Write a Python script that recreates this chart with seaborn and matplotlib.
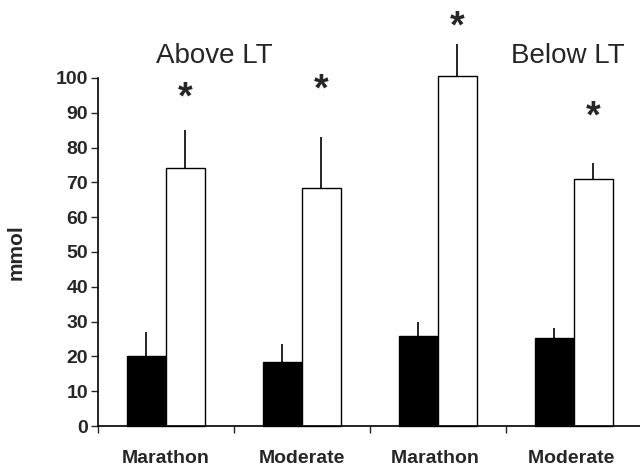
import numpy as np
import pandas as pd
import seaborn as sns
import matplotlib
matplotlib.use("Agg")
import matplotlib.pyplot as plt

# --- data ---
groups = ["Marathon", "Moderate", "Marathon ", "Moderate "]
conditions = ["pre", "post"]
pre_vals = [20.0, 18.4, 25.9, 25.3]
post_vals = [74.0, 68.4, 100.6, 71.0]
pre_err = [7.0, 5.1, 4.1, 2.9]
post_err = [11.0, 14.6, 9.2, 4.6]
star_y = [94.0, 96.5, 114.5, 88.5]
y_ticks = list(range(0, 101, 10))

df = pd.DataFrame({
    "group": groups * 2,
    "cond": ["pre"] * 4 + ["post"] * 4,
    "value": pre_vals + post_vals,
})

sns.set_style("white")
plt.rcParams["font.family"] = ["Liberation Sans", "DejaVu Sans"]

fig = plt.figure(figsize=(6.4, 4.66), dpi=100)
ax = fig.add_axes([0.153, 0.0858, 0.85, 0.747])

sns.barplot(data=df, x="group", y="value", hue="cond", order=groups,
            hue_order=conditions, palette=["black", "white"], width=0.574,
            edgecolor="black", linewidth=1.0, errorbar=None, legend=False,
            ax=ax)

# bars in order: all "pre" then all "post"
patches = ax.patches[:8]
pre_x = [p.get_x() + p.get_width() / 2 for p in patches[:4]]
post_x = [p.get_x() + p.get_width() / 2 for p in patches[4:]]
for p in patches:
    p.set_clip_on(False)

ax.errorbar(pre_x, pre_vals, yerr=[[0] * 4, pre_err], fmt="none",
            ecolor="black", elinewidth=1.2, capsize=0, clip_on=False)
ax.errorbar(post_x, post_vals, yerr=[[0] * 4, post_err], fmt="none",
            ecolor="black", elinewidth=1.2, capsize=0, clip_on=False)

for x, y in zip(post_x, star_y):
    ax.text(x, y, "*", ha="center", va="center", fontsize=27,
            fontweight="bold", clip_on=False)

ax.text(0.353, 106.3, "Above LT", ha="center", va="center", fontsize=20,
        clip_on=False)
ax.text(2.956, 106.3, "Below LT", ha="center", va="center", fontsize=20,
        clip_on=False)

ax.set_xlim(-0.5, 3.5)
ax.set_ylim(0, 100)
ax.set_yticks(y_ticks)
ax.set_yticklabels([str(t) for t in y_ticks], fontsize=14, fontweight="bold")

# tick marks between groups, labels under group centres
ax.set_xticks([-0.5, 0.5, 1.5, 2.5])
ax.set_xticklabels([])
ax.set_xticks(range(4), minor=True)
ax.set_xticklabels(groups, minor=True, fontsize=14, fontweight="bold")
ax.tick_params(axis="x", which="minor", length=0, pad=17)
ax.tick_params(axis="x", which="major", direction="out", length=5, width=1,
               bottom=True)
ax.tick_params(axis="y", direction="out", length=5, width=1, left=True, pad=2)

ax.set_xlabel("")
ax.set_ylabel("mmol", fontsize=15, fontweight="bold", labelpad=22)

sns.despine(ax=ax)
for s in ["left", "bottom"]:
    ax.spines[s].set_color("black")
    ax.spines[s].set_linewidth(1.2)

fig.savefig("out.png", dpi=100)
